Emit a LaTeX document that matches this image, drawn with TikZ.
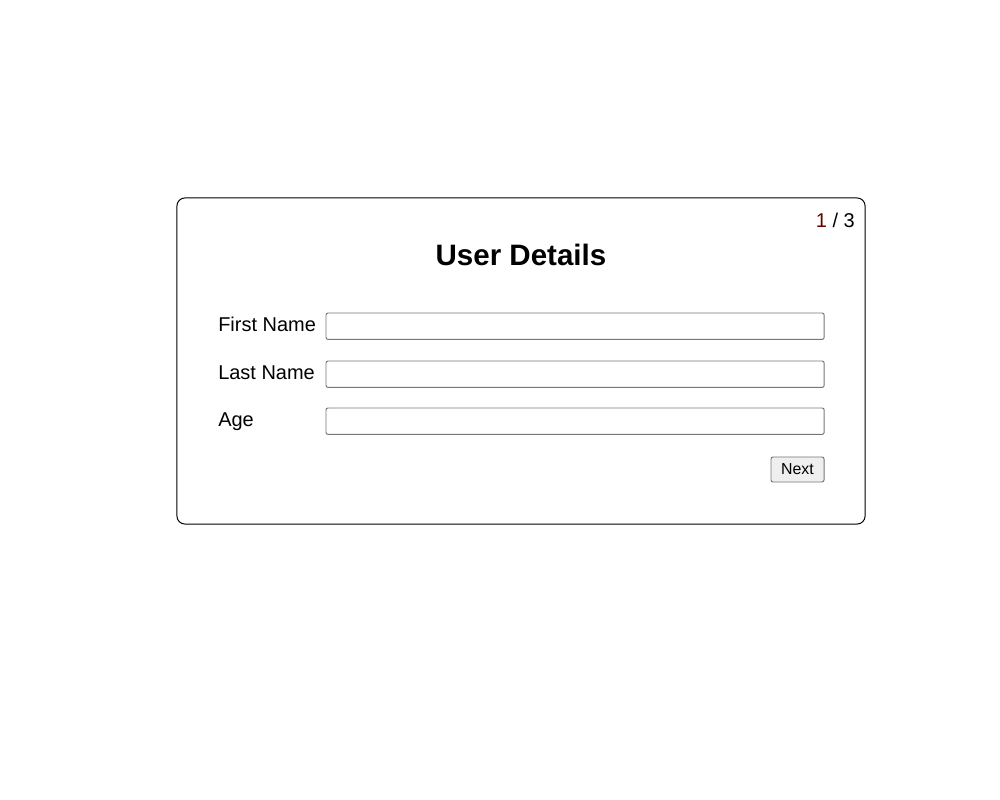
\documentclass[tikz,border=0pt]{standalone}
\usepackage{fontspec}
\setmainfont{Liberation Sans}
\usetikzlibrary{positioning}

\definecolor{fieldgray}{RGB}{118,118,118}
\definecolor{btnfill}{RGB}{239,239,239}
\definecolor{pagered}{RGB}{100,0,0}

\tikzset{
  card/.style = {draw, line width = 0.7pt, rounded corners = 0.2cm,
    minimum width = 17.2cm, minimum height = 8.15cm, inner sep = 0},
  field/.style = {draw = fieldgray, line width = 0.7pt, rounded corners = 0.05cm,
    minimum width = 12.45cm, minimum height = 0.66cm, inner sep = 0, outer sep = 0},
  fieldlabel/.style = {font = \fontsize{14.2pt}{16pt}\selectfont, inner sep = 0},
  button/.style = {draw = fieldgray, fill = btnfill, line width = 0.7pt,
    rounded corners = 0.05cm, minimum width = 1.325cm, minimum height = 0.625cm,
    inner sep = 0, font = \fontsize{11.3pt}{13pt}\selectfont}
}

\begin{document}
\begin{tikzpicture}[x = 0.025cm, y = -0.025cm]
  \useasboundingbox (0, 0) rectangle (1000, 800);

  \node[card] (card) at (521, 361) {};

  \node[anchor = base, inner sep = 0, font = \fontsize{21pt}{24pt}\selectfont\bfseries]
  (title) at (521, 266) {User Details};

  \node[anchor = base east, fieldlabel] (counter) at (855, 228)
  {\textcolor{pagered}{1} / 3};

  \foreach \txt/\top/\base [count = \i] in {First Name/313/331, Last Name/361/379, Age/408/426}{
    \node[fieldlabel, anchor = base west] (label\i) at (218, \base) {\txt};
    \node[field, anchor = north west] (field\i) at (326, \top) {};
  }

  \node[button] (next) at (797.5, 469.5) {Next};
\end{tikzpicture}
\end{document}
